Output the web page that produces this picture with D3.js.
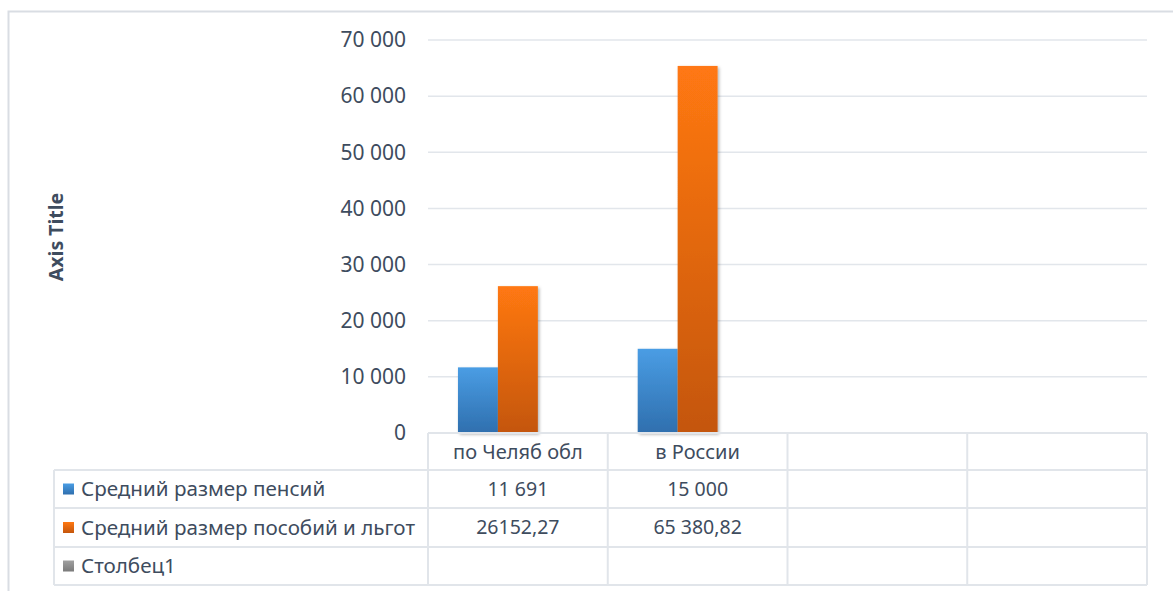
<!DOCTYPE html>
<html>
<head>
<meta charset="utf-8">
<script src="https://cdn.jsdelivr.net/npm/d3@7/dist/d3.min.js"></script>
<style>
  html, body { margin: 0; padding: 0; background: #fff; }
  svg { display: block; }
  text { font-family: "Noto Sans", "DejaVu Sans", sans-serif; fill: #3e4c5e; }
</style>
</head>
<body>
<svg id="chart" width="1173" height="591"></svg>
<script>
// Categories (two filled columns and two empty columns of the data table)
const categories = ["по Челяб обл", "в России", "", ""];

// Series names shown in the data table legend
const seriesNames = ["Средний размер пенсий", "Средний размер пособий и льгот", "Столбец1"];

// Cell texts as written in the data table; the bar heights are parsed from them
const pensionText = ["11 691", "15 000", "", ""];
const benefitText = ["26152,27", "65 380,82", "", ""];
const column1Text = ["", "", "", ""];

// Y axis ticks
const yTicks = [0, 10000, 20000, 30000, 40000, 50000, 60000, 70000];

const parseCell = s => s === "" ? null : +s.replace(/\s/g, "").replace(",", ".");
const tableTexts = [pensionText, benefitText, column1Text];
const seriesValues = tableTexts.map(arr => arr.map(parseCell));

const colors = [
  { top: "#4a9de4", bottom: "#2f6fae", key: "#3a84c8" },
  { top: "#ff7812", bottom: "#c4560c", key: "#f06a10" },
  { top: "#a0a0a0", bottom: "#7a7a7a", key: "#8c8c8c" }
];

const svg = d3.select("#chart");
const W = 1173, H = 591;

const plot = { left: 428, right: 1147, top: 40, bottom: 433 };
const tableLeft = 54;
const rowEdges = [433, 470, 508, 547, 585];

const locale = d3.formatLocale({ decimal: ",", thousands: "\u00a0", grouping: [3], currency: ["", ""] });
const fmt = locale.format(",d");

const x = d3.scaleBand().domain(d3.range(categories.length)).range([plot.left, plot.right]);
// three series slots per category (the third series is empty)
const xs = d3.scaleBand().domain([0, 1, 2]).range([0, x.bandwidth()]).paddingInner(0).paddingOuter(0.75);
const y = d3.scaleLinear().domain([0, 70000]).range([plot.bottom, plot.top]);

const defs = svg.append("defs");
colors.forEach((c, i) => {
  const g = defs.append("linearGradient").attr("id", "grad" + i)
    .attr("x1", 0).attr("y1", 0).attr("x2", 0).attr("y2", 1);
  g.append("stop").attr("offset", "0%").attr("stop-color", c.top);
  g.append("stop").attr("offset", "100%").attr("stop-color", c.bottom);
  const k = defs.append("linearGradient").attr("id", "key" + i)
    .attr("x1", 0).attr("y1", 0).attr("x2", 0).attr("y2", 1);
  k.append("stop").attr("offset", "0%").attr("stop-color", c.top);
  k.append("stop").attr("offset", "100%").attr("stop-color", c.bottom);
});
const shadow = defs.append("filter").attr("id", "shadow")
  .attr("x", "-20%").attr("y", "-5%").attr("width", "150%").attr("height", "115%");
shadow.append("feDropShadow").attr("dx", 1.5).attr("dy", 1.5).attr("stdDeviation", 1.5)
  .attr("flood-color", "#000").attr("flood-opacity", 0.3);

// Chart area border (left and top edges visible)
svg.append("path")
  .attr("d", `M8.5,${H} L8.5,11.5 L${W},11.5`)
  .attr("fill", "none").attr("stroke", "#d9dde3").attr("stroke-width", 2);

// Gridlines
svg.append("g").selectAll("line").data(yTicks.filter(d => d > 0)).join("line")
  .attr("x1", plot.left).attr("x2", plot.right)
  .attr("y1", d => y(d)).attr("y2", d => y(d))
  .attr("stroke", "#e2e6eb").attr("stroke-width", 1.5);

// Y axis (labels only)
const yAxis = d3.axisLeft(y).tickValues(yTicks).tickFormat(d => fmt(d)).tickSize(0).tickPadding(0);
const gy = svg.append("g").attr("transform", "translate(406,0)").call(yAxis);
gy.select(".domain").remove();
gy.selectAll("text").attr("font-size", 21).style("font-family", '"Noto Sans", sans-serif').attr("fill", "#3e4c5e");

// Axis title
svg.append("text")
  .attr("transform", "translate(63,237) rotate(-90)")
  .attr("text-anchor", "middle")
  .attr("font-size", 19.5).attr("font-weight", "bold")
  .text("Axis Title");

// Bars
[0, 1].forEach(si => {
  svg.append("g").selectAll("rect")
    .data(seriesValues[si].map((v, ci) => ({ v, ci })).filter(d => d.v !== null))
    .join("rect")
    .attr("x", d => x(d.ci) + xs(si))
    .attr("width", xs.bandwidth())
    .attr("y", d => y(d.v))
    .attr("height", d => y(0) - y(d.v))
    .attr("fill", `url(#grad${si})`)
    .attr("filter", "url(#shadow)");
});

// Data table grid
const grid = svg.append("g").attr("stroke", "#e1e5ea").attr("stroke-width", 2).attr("fill", "none");
grid.append("line").attr("x1", plot.left).attr("x2", plot.right).attr("y1", rowEdges[0]).attr("y2", rowEdges[0]);
rowEdges.slice(1).forEach(ry => {
  grid.append("line").attr("x1", tableLeft).attr("x2", plot.right).attr("y1", ry).attr("y2", ry);
});
grid.append("line").attr("x1", tableLeft).attr("x2", tableLeft).attr("y1", rowEdges[1]).attr("y2", rowEdges[4]);
d3.range(categories.length + 1).forEach(i => {
  const cx = i < categories.length ? x(i) : plot.right;
  grid.append("line").attr("x1", cx).attr("x2", cx).attr("y1", rowEdges[0]).attr("y2", rowEdges[4]);
});

// Category headers
svg.append("g").selectAll("text").data(categories).join("text")
  .attr("x", (d, i) => x(i) + x.bandwidth() / 2)
  .attr("y", (rowEdges[0] + rowEdges[1]) / 2)
  .attr("dy", "0.35em").attr("text-anchor", "middle").attr("font-size", 20)
  .text(d => d);

// Legend rows with keys and values
seriesNames.forEach((name, si) => {
  const cy = (rowEdges[si + 1] + rowEdges[si + 2]) / 2;
  svg.append("rect").attr("x", 63).attr("y", cy - 5.5).attr("width", 11).attr("height", 11)
    .attr("fill", `url(#key${si})`);
  svg.append("text").attr("x", 81).attr("y", cy).attr("dy", "0.35em")
    .attr("font-size", 20.6).text(name);
  svg.append("g").selectAll("text").data(tableTexts[si]).join("text")
    .attr("x", (d, i) => x(i) + x.bandwidth() / 2)
    .attr("y", cy).attr("dy", "0.35em").attr("text-anchor", "middle")
    .attr("font-size", 19.5).text(d => d);
});
</script>
</body>
</html>
